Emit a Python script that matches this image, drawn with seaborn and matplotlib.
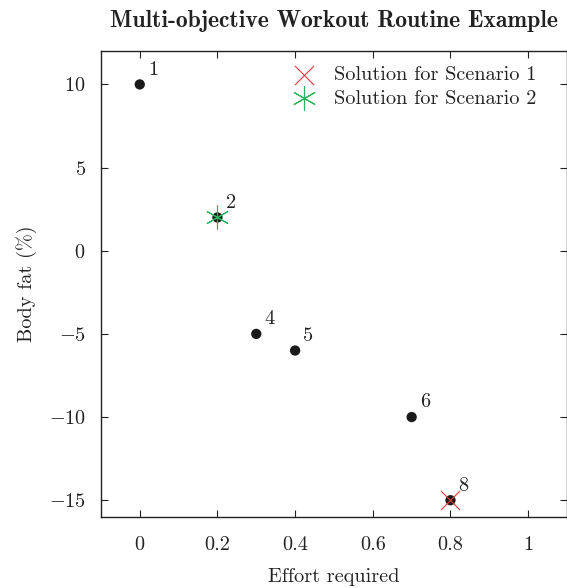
import matplotlib
matplotlib.use("Agg")
import matplotlib.pyplot as plt
import seaborn as sns
import pandas as pd

# data
effort = [0.0, 0.2, 0.3, 0.4, 0.7, 0.8]
body_fat = [10, 2, -5, -6, -10, -15]
point_labels = ["1", "2", "4", "5", "6", "8"]
sol1_x, sol1_y = [0.8], [-15]
sol2_x, sol2_y = [0.2], [2]
xticks = [0, 0.2, 0.4, 0.6, 0.8, 1]
yticks = [-15, -10, -5, 0, 5, 10]

sns.set_theme(style="ticks")
plt.rcParams["font.family"] = ["cmr10", "DejaVu Serif"]
plt.rcParams["mathtext.fontset"] = "cm"
plt.rcParams["axes.formatter.use_mathtext"] = True
plt.rcParams["axes.unicode_minus"] = True

FS = 14.6

fig = plt.figure(figsize=(5.67, 5.88), dpi=100)
ax = fig.add_axes([0.178, 0.121, 0.822, 0.792])

df = pd.DataFrame({"x": effort, "y": body_fat})
sns.scatterplot(data=df, x="x", y="y", ax=ax, color="#1a1a1a", s=55,
                edgecolor="none", zorder=3, legend=False)
sns.scatterplot(x=sol1_x, y=sol1_y, ax=ax, marker="x", s=190, color="#f03c3c",
                linewidth=0.8, zorder=4, label="Solution for Scenario 1")
sns.scatterplot(x=sol2_x, y=sol2_y, ax=ax, marker=(6, 2, 0), s=290, color="#2bb35e",
                linewidth=0.8, zorder=4, label="Solution for Scenario 2")

for xv, yv, t in zip(effort, body_fat, point_labels):
    ax.annotate(t, (xv, yv), xytext=(9.5, 10.5), textcoords="offset points",
                ha="center", va="center", fontsize=FS, color="#222222")

ax.set_xlim(-0.1, 1.1)
ax.set_ylim(-16, 12)
ax.set_xticks(xticks)
ax.set_yticks(yticks)
ax.set_xticklabels(["0", "0.2", "0.4", "0.6", "0.8", "1"])
ax.set_yticklabels([r"$-15$", r"$-10$", r"$-5$", r"$0$", r"$5$", r"$10$"])
ax.tick_params(direction="in", length=5, width=0.8, top=True, right=True,
               labelsize=FS, colors="#222222")
ax.tick_params(axis="y", pad=11)
ax.tick_params(axis="x", pad=14)
for sp in ax.spines.values():
    sp.set_color("#222222")
    sp.set_linewidth(1.0)

ax.set_xlabel("Effort required", fontsize=FS, color="#222222", labelpad=10)
ax.set_ylabel("Body fat (%)", fontsize=FS, color="#222222", labelpad=8)
fig.text(0.589, 0.965, "Multi-objective Workout Routine Example",
         family=["cmb10", "DejaVu Serif"], fontsize=17, ha="center", va="center",
         color="#222222")

leg = ax.legend(loc="upper right", frameon=False, fontsize=FS, handletextpad=0.5,
                borderaxespad=0.3, labelspacing=0.25, bbox_to_anchor=(0.965, 0.998))
for t in leg.get_texts():
    t.set_color("#222222")

fig.savefig("out.png", dpi=100)
